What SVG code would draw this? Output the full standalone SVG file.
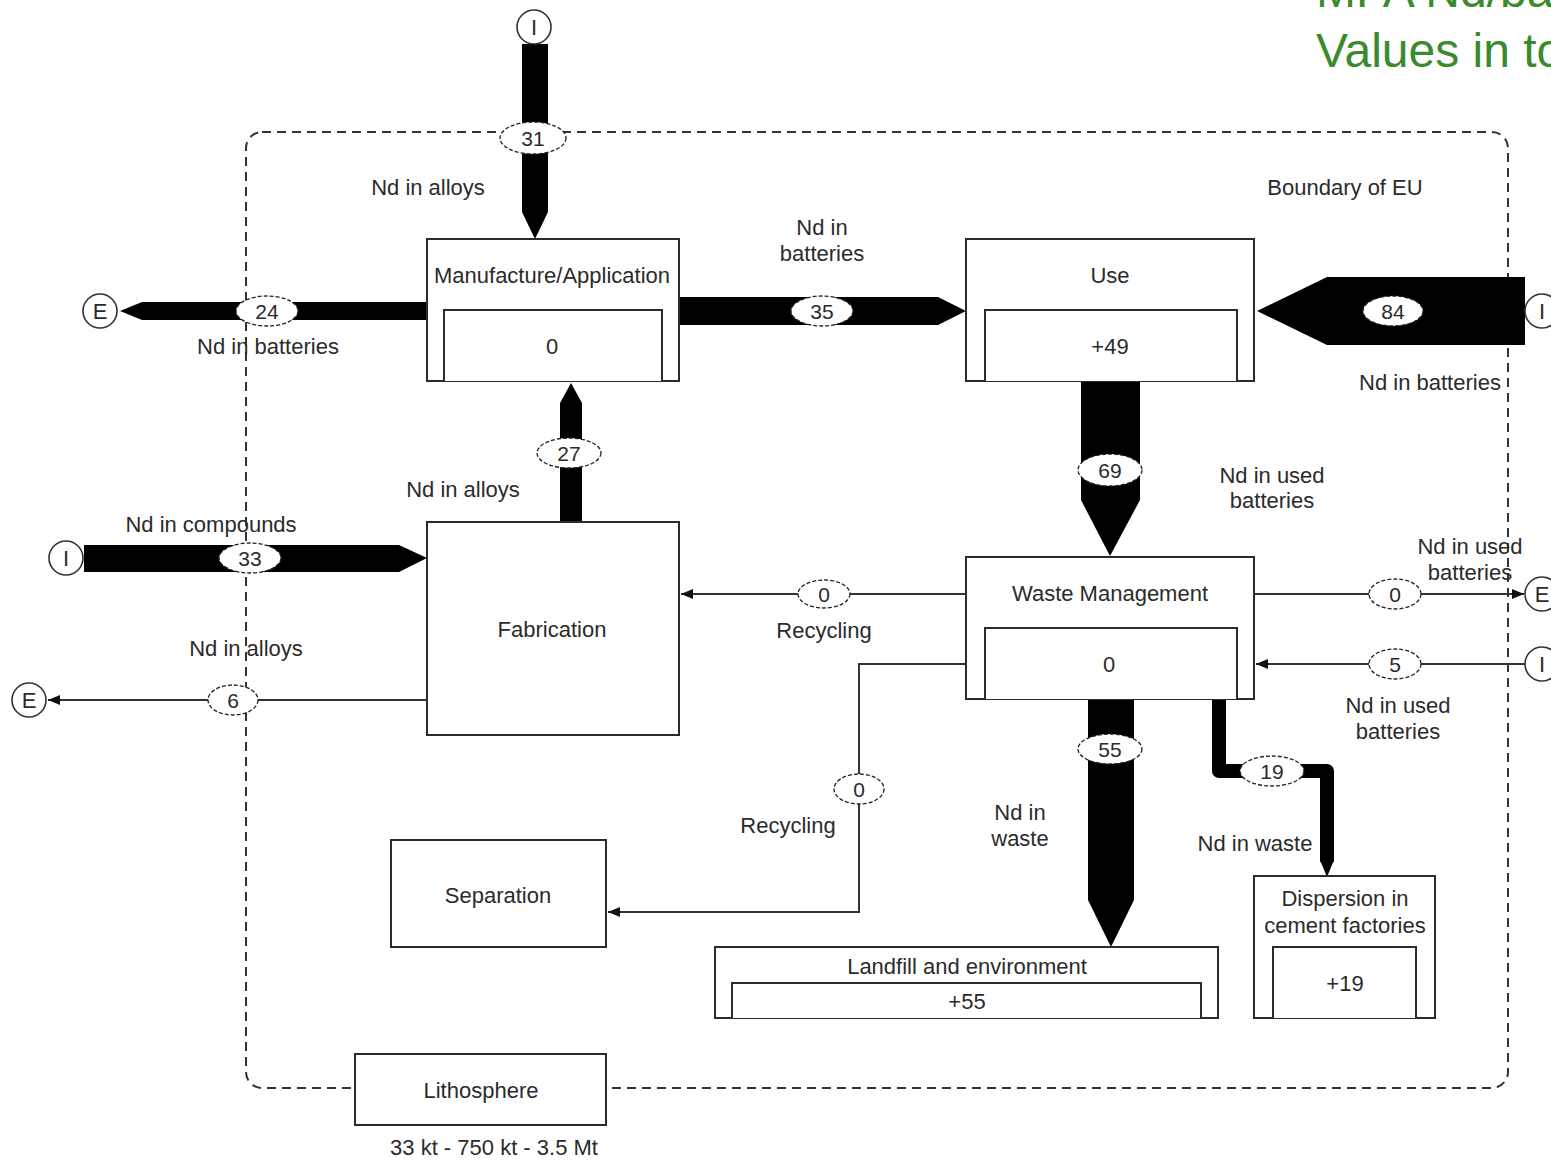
<svg xmlns="http://www.w3.org/2000/svg" width="1551" height="1160" viewBox="0 0 1551 1160">
<style>
text{font-family:"Liberation Sans",Arial,sans-serif;font-size:22px;fill:#2b2b2b;text-anchor:middle}
.box{fill:#fff;stroke:#2b2b2b;stroke-width:2}
.inner{fill:#fff;stroke:#2b2b2b;stroke-width:2}
.flow{fill:#000;stroke:none}
.thin{fill:none;stroke:#333;stroke-width:2}
.num{fill:#fff;stroke:#222;stroke-width:1.3;stroke-dasharray:4 2}
.nt{font-size:21px}
.pc{fill:#fff;stroke:#333;stroke-width:1.6}
.title{fill:#3a8a2e;font-size:48px;text-anchor:start}
</style>
<defs>
<marker id="ah" markerUnits="userSpaceOnUse" markerWidth="13" markerHeight="11" refX="12" refY="5" orient="auto">
<path d="M0,0 L12,5 L0,10 z" fill="#111"/>
</marker>
</defs>
<rect width="1551" height="1160" fill="#fff"/>
<g id="title">
<text class="title" x="1316" y="7">MFA Nd/batteries</text>
<text class="title" x="1316" y="67">Values in tonnes</text>
</g>
<g id="boundary">
<rect x="246" y="132" width="1262" height="956" rx="16" fill="none" stroke="#333" stroke-width="2" stroke-dasharray="9 6"/>
<text x="1345" y="195">Boundary of EU</text>
</g>
<g id="connectors">
<polygon class="flow" points="522,44 548,44 548,212 535,239 522,212"/>
<polygon class="flow" points="427,302 142,302 120,311 142,320 427,320"/>
<polygon class="flow" points="679,297 938,297 966,311 938,325 679,325"/>
<polygon class="flow" points="1525,277 1327,277 1257,311 1327,345 1525,345"/>
<polygon class="flow" points="1081,381 1140,381 1140,500 1110,556 1081,500"/>
<polygon class="flow" points="560,522 560,403 571,383 582,403 582,522"/>
<polygon class="flow" points="84,545 399,545 427,558 399,572 84,572"/>
<polygon class="flow" points="1088,699 1134,699 1134,900 1111,947 1088,900"/>
<path d="M1219,699 V771 H1327 V862" fill="none" stroke="#000" stroke-width="14" stroke-linejoin="round"/>
<polygon class="flow" points="1320,860 1334,860 1327,877"/>
<path class="thin" d="M427,700 H48" stroke-width="3" marker-end="url(#ah)"/>
<path class="thin" d="M966,594 H681" marker-end="url(#ah)"/>
<path class="thin" d="M966,664 H859 V912 H608" marker-end="url(#ah)"/>
<path class="thin" d="M1254,594 H1524" marker-end="url(#ah)"/>
<path class="thin" d="M1525,664 H1256" stroke-width="3" marker-end="url(#ah)"/>
<ellipse class="num" cx="533" cy="138" rx="33" ry="16"/><text class="nt" x="533" y="146">31</text>
<ellipse class="num" cx="267" cy="311" rx="31" ry="15"/><text class="nt" x="267" y="319">24</text>
<ellipse class="num" cx="822" cy="311" rx="31" ry="15"/><text class="nt" x="822" y="319">35</text>
<ellipse class="num" cx="1393" cy="311" rx="30" ry="15"/><text class="nt" x="1393" y="319">84</text>
<ellipse class="num" cx="569" cy="453" rx="32" ry="15"/><text class="nt" x="569" y="461">27</text>
<ellipse class="num" cx="1110" cy="470" rx="32" ry="16"/><text class="nt" x="1110" y="478">69</text>
<ellipse class="num" cx="250" cy="558" rx="31" ry="15"/><text class="nt" x="250" y="566">33</text>
<ellipse class="num" cx="824" cy="594" rx="26" ry="14"/><text class="nt" x="824" y="602">0</text>
<ellipse class="num" cx="1395" cy="594" rx="26" ry="15"/><text class="nt" x="1395" y="602">0</text>
<ellipse class="num" cx="1395" cy="664" rx="26" ry="15"/><text class="nt" x="1395" y="672">5</text>
<ellipse class="num" cx="233" cy="700" rx="25" ry="15"/><text class="nt" x="233" y="708">6</text>
<ellipse class="num" cx="1110" cy="749" rx="32" ry="15"/><text class="nt" x="1110" y="757">55</text>
<ellipse class="num" cx="1272" cy="771" rx="32" ry="15"/><text class="nt" x="1272" y="779">19</text>
<ellipse class="num" cx="859" cy="789" rx="25" ry="15"/><text class="nt" x="859" y="797">0</text>
<text x="428" y="195">Nd in alloys</text>
<text x="822" y="235">Nd in</text>
<text x="822" y="261">batteries</text>
<text x="268" y="354">Nd in batteries</text>
<text x="1430" y="390">Nd in batteries</text>
<text x="463" y="497">Nd in alloys</text>
<text x="1272" y="483">Nd in used</text>
<text x="1272" y="508">batteries</text>
<text x="211" y="532">Nd in compounds</text>
<text x="1470" y="554">Nd in used</text>
<text x="1470" y="580">batteries</text>
<text x="824" y="638">Recycling</text>
<text x="246" y="656">Nd in alloys</text>
<text x="1398" y="713">Nd in used</text>
<text x="1398" y="739">batteries</text>
<text x="1020" y="820">Nd in</text>
<text x="1020" y="846">waste</text>
<text x="788" y="833">Recycling</text>
<text x="1255" y="851">Nd in waste</text>
</g>
<g id="proc-I-top"><circle class="pc" cx="534" cy="27" r="17"/><text x="534" y="35">I</text></g>
<g id="proc-E-24"><circle class="pc" cx="100" cy="311" r="17"/><text x="100" y="319">E</text></g>
<g id="proc-I-33"><circle class="pc" cx="66" cy="558" r="17"/><text x="66" y="566">I</text></g>
<g id="proc-E-6"><circle class="pc" cx="29" cy="700" r="17"/><text x="29" y="708">E</text></g>
<g id="proc-I-84"><circle class="pc" cx="1542" cy="311" r="17"/><text x="1542" y="319">I</text></g>
<g id="proc-E-0"><circle class="pc" cx="1542" cy="594" r="17"/><text x="1542" y="602">E</text></g>
<g id="proc-I-5"><circle class="pc" cx="1542" cy="664" r="17"/><text x="1542" y="672">I</text></g>
<g id="manufacture">
<rect class="box" x="427" y="239" width="252" height="142"/>
<path class="inner" d="M444,381 V310 H662 V381"/>
<text x="552" y="283">Manufacture/Application</text>
<text x="552" y="354">0</text>
</g>
<g id="use">
<rect class="box" x="966" y="239" width="288" height="142"/>
<path class="inner" d="M985,381 V310 H1237 V381"/>
<text x="1110" y="283">Use</text>
<text x="1110" y="354">+49</text>
</g>
<g id="fabrication">
<rect class="box" x="427" y="522" width="252" height="213"/>
<text x="552" y="637">Fabrication</text>
</g>
<g id="waste-management">
<rect class="box" x="966" y="557" width="288" height="142"/>
<path class="inner" d="M985,699 V628 H1237 V699"/>
<text x="1110" y="601">Waste Management</text>
<text x="1109" y="672">0</text>
</g>
<g id="separation">
<rect class="box" x="391" y="840" width="215" height="107"/>
<text x="498" y="903">Separation</text>
</g>
<g id="landfill">
<rect class="box" x="715" y="947" width="503" height="71"/>
<path class="inner" d="M732,1018 V983 H1201 V1018"/>
<text x="967" y="974">Landfill and environment</text>
<text x="967" y="1009">+55</text>
</g>
<g id="dispersion">
<rect class="box" x="1254" y="876" width="181" height="142"/>
<path class="inner" d="M1273,1018 V947 H1416 V1018"/>
<text x="1345" y="906">Dispersion in</text>
<text x="1345" y="933">cement factories</text>
<text x="1345" y="991">+19</text>
</g>
<g id="lithosphere">
<rect class="box" x="355" y="1054" width="251" height="71"/>
<text x="481" y="1098">Lithosphere</text>
<text x="494" y="1155">33 kt - 750 kt - 3.5 Mt</text>
</g>
</svg>
